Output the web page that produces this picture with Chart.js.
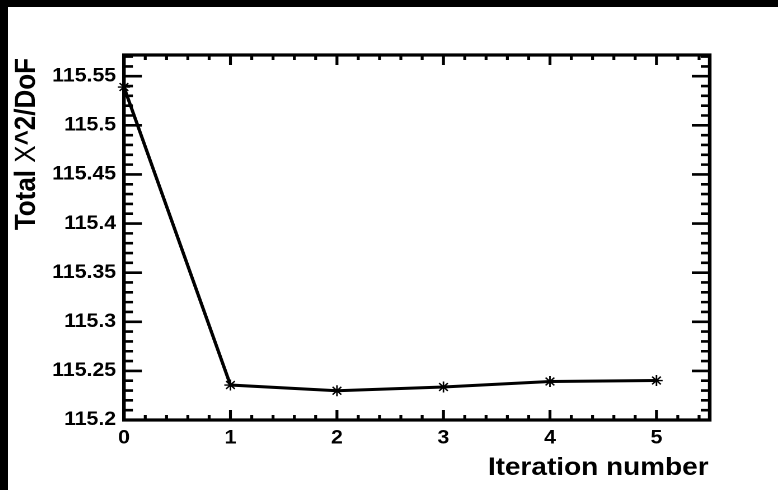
<!DOCTYPE html>
<html>
<head>
<meta charset="utf-8">
<title>Total chi2/DoF vs iteration</title>
<script src="https://cdn.jsdelivr.net/npm/chart.js@4/dist/chart.umd.min.js"></script>
<style>
  html, body { margin: 0; padding: 0; background: #000; overflow: hidden; }
  #pad { position: absolute; left: 8px; top: 7px; width: 770px; height: 483px; background: #fff; overflow: hidden; }
  /* the canvas is laid out narrower and stretched wide, like the old ROOT export */
  #chi2Chart { position: absolute; left: 0; top: 0; transform-origin: 0 0; transform: scaleX(1.1192); background: #fff; }
</style>
</head>
<body>
<div id="pad"><canvas id="chi2Chart" width="688" height="483"></canvas></div>
<script>
const iterations = [0, 1, 2, 3, 4, 5];
const chi2PerDof = [115.539, 115.2356, 115.2298, 115.2336, 115.2392, 115.2402];

const xTicks = [0, 1, 2, 3, 4, 5];
const xTickLabels = ['0', '1', '2', '3', '4', '5'];
const yTicks = [115.2, 115.25, 115.3, 115.35, 115.4, 115.45, 115.5, 115.55];
const yTickLabels = ['115.2', '115.25', '115.3', '115.35', '115.4', '115.45', '115.5', '115.55'];

const xTitle = 'Iteration number';
const yTitleParts = ['Total ', 'Χ', '^2/DoF'];

const FONT = '"Liberation Sans", Arial, Helvetica, sans-serif';

// frame with inward major/minor ticks on all four sides
const rootFrame = {
  id: 'rootFrame',
  afterDatasetsDraw(chart) {
    const { ctx, chartArea: a, scales: { x, y } } = chart;
    ctx.save();
    ctx.strokeStyle = '#000';
    ctx.lineWidth = 2.6;
    ctx.beginPath();
    for (let i = 0; i * 0.2 <= x.max + 1e-9; i++) {
      const px = x.getPixelForValue(i * 0.2);
      const len = i % 5 === 0 ? 10 : 5;
      ctx.moveTo(px, a.bottom); ctx.lineTo(px, a.bottom - len);
      ctx.moveTo(px, a.top); ctx.lineTo(px, a.top + len);
    }
    for (let i = 0; y.min + i * 0.01 <= y.max + 1e-9; i++) {
      const py = y.getPixelForValue(y.min + i * 0.01);
      const len = i % 5 === 0 ? 16 : 8;
      ctx.moveTo(a.left, py); ctx.lineTo(a.left + len, py);
      ctx.moveTo(a.right, py); ctx.lineTo(a.right - len, py);
    }
    ctx.stroke();
    ctx.lineWidth = 3.2;
    ctx.strokeRect(a.left, a.top, a.right - a.left, a.bottom - a.top);
    ctx.restore();
  },
  afterDraw(chart) {
    const { ctx, chartArea: a } = chart;
    ctx.save();
    ctx.fillStyle = '#000';
    ctx.textBaseline = 'alphabetic';

    // x title, right aligned under the frame
    ctx.font = 'bold 25px ' + FONT;
    ctx.textAlign = 'right';
    ctx.fillText(xTitle, a.right - 1, 468);

    // y title, rotated, ending at the top of the frame
    const fonts = ['bold 26px ' + FONT, '26px ' + FONT, 'bold 26px ' + FONT];
    let total = 0;
    const widths = yTitleParts.map((t, i) => {
      ctx.font = fonts[i];
      const w = ctx.measureText(t).width;
      total += w;
      return w;
    });
    ctx.translate(24, a.top + 3);
    ctx.rotate(-Math.PI / 2);
    ctx.textAlign = 'left';
    let pos = -total;
    yTitleParts.forEach((t, i) => {
      ctx.font = fonts[i];
      ctx.fillText(t, pos, 0);
      pos += widths[i];
    });
    ctx.restore();
  }
};

const chart = new Chart(document.getElementById('chi2Chart').getContext('2d'), {
  type: 'line',
  data: {
    labels: iterations,
    datasets: [{
      data: iterations.map((it, i) => ({ x: it, y: chi2PerDof[i] })),
      borderColor: '#000',
      borderWidth: 3,
      tension: 0,
      pointStyle: 'star',
      pointRadius: 5.5,
      pointBorderWidth: 1.4,
      pointBorderColor: '#000',
      pointBackgroundColor: '#000',
      clip: false
    }]
  },
  options: {
    responsive: false,
    devicePixelRatio: 2,
    animation: false,
    layout: { padding: { top: 48, right: 61, left: 0, bottom: 0 } },
    plugins: { legend: { display: false }, tooltip: { enabled: false } },
    scales: {
      x: {
        type: 'linear',
        min: 0,
        max: 5.5,
        grid: { display: false, drawTicks: false },
        border: { display: false },
        afterBuildTicks: s => { s.ticks = xTicks.map(v => ({ value: v })); },
        afterFit: s => { s.height = 70; },
        ticks: {
          padding: 7,
          color: '#000',
          font: { family: FONT, size: 19, weight: 'bold' },
          callback: (v) => xTickLabels[xTicks.indexOf(v)]
        }
      },
      y: {
        type: 'linear',
        min: 115.2,
        max: 115.5716,
        grid: { display: false, drawTicks: false },
        border: { display: false },
        afterBuildTicks: s => { s.ticks = yTicks.map(v => ({ value: v })); },
        afterFit: s => { s.width = 103.6; },
        ticks: {
          padding: 7,
          color: '#000',
          font: { family: FONT, size: 19, weight: 'bold' },
          callback: (v) => yTickLabels[yTicks.findIndex(t => Math.abs(t - v) < 1e-6)]
        }
      }
    }
  },
  plugins: [rootFrame]
});
</script>
</body>
</html>
